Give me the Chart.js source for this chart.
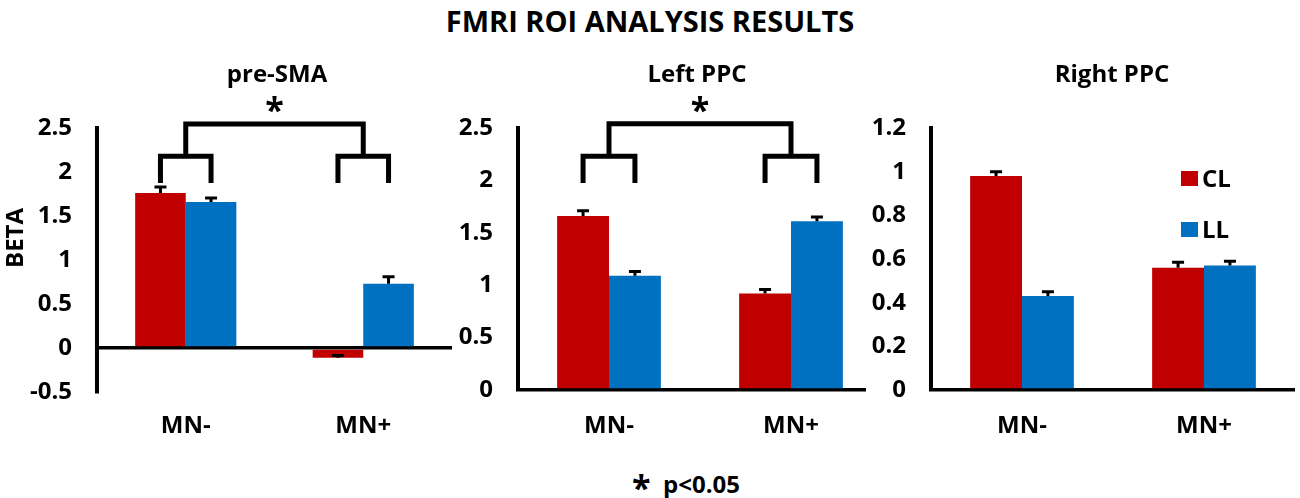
<!DOCTYPE html>
<html>
<head>
<meta charset="utf-8">
<script src="https://cdn.jsdelivr.net/npm/chart.js@4.4.0/dist/chart.umd.min.js"></script>
<style>
	body { margin: 0; background: #fff; }
	#fig { position: relative; width: 1300px; height: 498px; background: #fff; overflow: hidden;
		font-family: "Open Sans", sans-serif; font-weight: 700; color: #000; }
	#fig canvas { position: absolute; }
	.txt { position: absolute; white-space: nowrap; transform: translate(-50%, -50%); line-height: 1; }
	.leg { position: absolute; font-size: 24px; line-height: 1; }
	.leg span { position: absolute; width: 17px; height: 15px; left: 0; }
</style>
</head>
<body>
<div id="fig">
	<canvas id="c_presma" width="460" height="390" style="left:0px; top:60px;"></canvas>
	<canvas id="c_leftppc" width="460" height="390" style="left:430px; top:60px;"></canvas>
	<canvas id="c_rightppc" width="434" height="390" style="left:866px; top:60px; background:#fff;"></canvas>

	<div class="txt" style="left:650px; top:20px; font-size:29px;">FMRI ROI ANALYSIS RESULTS</div>
	<div class="txt" style="left:277px; top:73px; font-size:24px;">pre-SMA</div>
	<div class="txt" style="left:697px; top:73px; font-size:24px;">Left PPC</div>
	<div class="txt" style="left:1112px; top:73px; font-size:24px;">Right PPC</div>
	<div class="txt" style="left:14px; top:238px; font-size:24px; transform:translate(-50%,-50%) rotate(-90deg);">BETA</div>
	<div class="txt" style="left:686px; top:480px; font-size:24px;"><span style="font-size:34px; position:relative; top:7px;">*</span>&nbsp; p&lt;0.05</div>
	<div id="legend"></div>
</div>

<script>
// |-----------|
// |   Data    |
// |-----------|

const categories = ['MN-', 'MN+']
const series_names = ['CL', 'LL']
const series_colors = ['#C00000', '#0070C0']

// pre-SMA
const presma_cl = [1.76, -0.11]
const presma_ll = [1.66, 0.73]
const presma_cl_err = [0.07, 0.025]
const presma_ll_err = [0.045, 0.08]
const presma_axis = [-0.5, 2.5, 0.5]      // min, max, step
const presma_bracket = [2.545, 2.18, 1.875] // top, middle, legs end

// Left PPC
const leftppc_cl = [1.66, 0.92]
const leftppc_ll = [1.09, 1.61]
const leftppc_cl_err = [0.05, 0.04]
const leftppc_ll_err = [0.04, 0.04]
const leftppc_axis = [0, 2.5, 0.5]
const leftppc_bracket = [2.54, 2.23, 1.975]

// Right PPC
const rightppc_cl = [0.98, 0.56]
const rightppc_ll = [0.43, 0.57]
const rightppc_cl_err = [0.02, 0.025]
const rightppc_ll_err = [0.02, 0.02]
const rightppc_axis = [0, 1.2, 0.2]


// |-------------|
// |   Plugins   |
// |-------------|

// Barres d'erreur (sens positif seulement, comme dans Excel)
const error_bars = {
	id: 'error_bars',
	afterDatasetsDraw(chart) {
		const ctx = chart.ctx
		const y = chart.scales.y
		ctx.save()
		ctx.strokeStyle = '#000'
		ctx.lineWidth = 3
		chart.data.datasets.forEach((ds, i) => {
			chart.getDatasetMeta(i).data.forEach((bar, j) => {
				const top = y.getPixelForValue(ds.data[j] + ds.err[j])
				ctx.beginPath()
				ctx.moveTo(bar.x, y.getPixelForValue(ds.data[j]))
				ctx.lineTo(bar.x, top)
				ctx.moveTo(bar.x - 6, top)
				ctx.lineTo(bar.x + 6, top)
				ctx.stroke()
			})
		})
		ctx.restore()
	}
}

// Accolades de comparaison + astérisque
const brackets = {
	id: 'brackets',
	afterDatasetsDraw(chart, args, opts) {
		if (!opts.levels) return
		const ctx = chart.ctx
		const y = chart.scales.y
		const y_top = y.getPixelForValue(opts.levels[0])
		const y_mid = y.getPixelForValue(opts.levels[1])
		const y_end = y.getPixelForValue(opts.levels[2])
		const m0 = chart.getDatasetMeta(0).data
		const m1 = chart.getDatasetMeta(1).data
		const mids = []
		ctx.save()
		ctx.strokeStyle = '#000'
		ctx.lineWidth = 5
		ctx.lineJoin = 'miter'
		ctx.lineCap = 'butt'
		for (let j = 0; j < m0.length; j++) {
			ctx.beginPath()
			ctx.moveTo(m0[j].x, y_end)
			ctx.lineTo(m0[j].x, y_mid)
			ctx.lineTo(m1[j].x, y_mid)
			ctx.lineTo(m1[j].x, y_end)
			ctx.stroke()
			mids.push((m0[j].x + m1[j].x) / 2)
		}
		ctx.beginPath()
		ctx.moveTo(mids[0], y_mid)
		ctx.lineTo(mids[0], y_top)
		ctx.lineTo(mids[1], y_top)
		ctx.lineTo(mids[1], y_mid)
		ctx.stroke()

		ctx.fillStyle = '#000'
		ctx.font = '700 34px "Open Sans"'
		ctx.textAlign = 'center'
		ctx.textBaseline = 'alphabetic'
		ctx.fillText('*', (mids[0] + mids[1]) / 2, y_top - 2)
		ctx.restore()
	}
}


// |---------------|
// |   Fonctions   |
// |---------------|

// Format des graduations façon Excel : 2, 1.5, 1, 0.8 ...
function tick_label(value) {
	return String(Math.round(value * 100) / 100)
}

function make_chart(canvas_id, cl, ll, cl_err, ll_err, axis, bracket_levels, box) {
	const config = {
		type: 'bar',
		data: {
			labels: categories,
			datasets: [
				{ label: series_names[0], data: cl, err: cl_err, backgroundColor: series_colors[0] },
				{ label: series_names[1], data: ll, err: ll_err, backgroundColor: series_colors[1] }
			]
		},
		options: {
			responsive: false,
			animation: false,
			devicePixelRatio: 1,
			layout: { padding: { top: box.top, right: box.right, left: 0, bottom: 0 } },
			datasets: { bar: { categoryPercentage: 0.57, barPercentage: 1.0 } },
			plugins: {
				legend: { display: false },
				tooltip: { enabled: false },
				brackets: { levels: bracket_levels }
			},
			scales: {
				x: {
					grid: { display: false, drawTicks: false },
					border: { display: false },
					ticks: { color: '#000', padding: box.xpad, font: { family: '"Open Sans"', size: 24, weight: 700 } },
					afterFit: (scale) => { scale.height = box.xh }
				},
				y: {
					min: axis[0],
					max: axis[1],
					ticks: {
						stepSize: axis[2],
						color: '#000',
						padding: 25,
						font: { family: '"Open Sans"', size: 24, weight: 700 },
						callback: (value) => tick_label(value)
					},
					grid: {
						drawTicks: false,
						lineWidth: 3.5,
						color: (c) => (c.tick && c.tick.value === 0) ? '#000' : 'rgba(0,0,0,0)'
					},
					border: { display: true, color: '#000', width: 4 },
					afterFit: (scale) => { scale.width = box.yw }
				}
			}
		},
		plugins: [error_bars, brackets]
	}
	return new Chart(document.getElementById(canvas_id), config)
}

make_chart('c_presma', presma_cl, presma_ll, presma_cl_err, presma_ll_err, presma_axis, presma_bracket,
	{ top: 68, right: 8, yw: 97, xh: 58, xpad: 20 })
make_chart('c_leftppc', leftppc_cl, leftppc_ll, leftppc_cl_err, leftppc_ll_err, leftppc_axis, leftppc_bracket,
	{ top: 68, right: 8, yw: 88, xh: 60, xpad: 22 })
make_chart('c_rightppc', rightppc_cl, rightppc_ll, rightppc_cl_err, rightppc_ll_err, rightppc_axis, null,
	{ top: 68, right: 5, yw: 65, xh: 60, xpad: 22 })

// Légende (panneau Right PPC)
const legend_tops = [171, 222]
series_names.forEach((name, i) => {
	document.getElementById('legend').innerHTML +=
	`
		<div class="leg" style="left:1181px; top:${legend_tops[i]}px;">
			<span style="background:${series_colors[i]}"></span>
			<div style="position:absolute; left:21px; top:-5px;">${name}</div>
		</div>
	`
})
</script>
</body>
</html>
